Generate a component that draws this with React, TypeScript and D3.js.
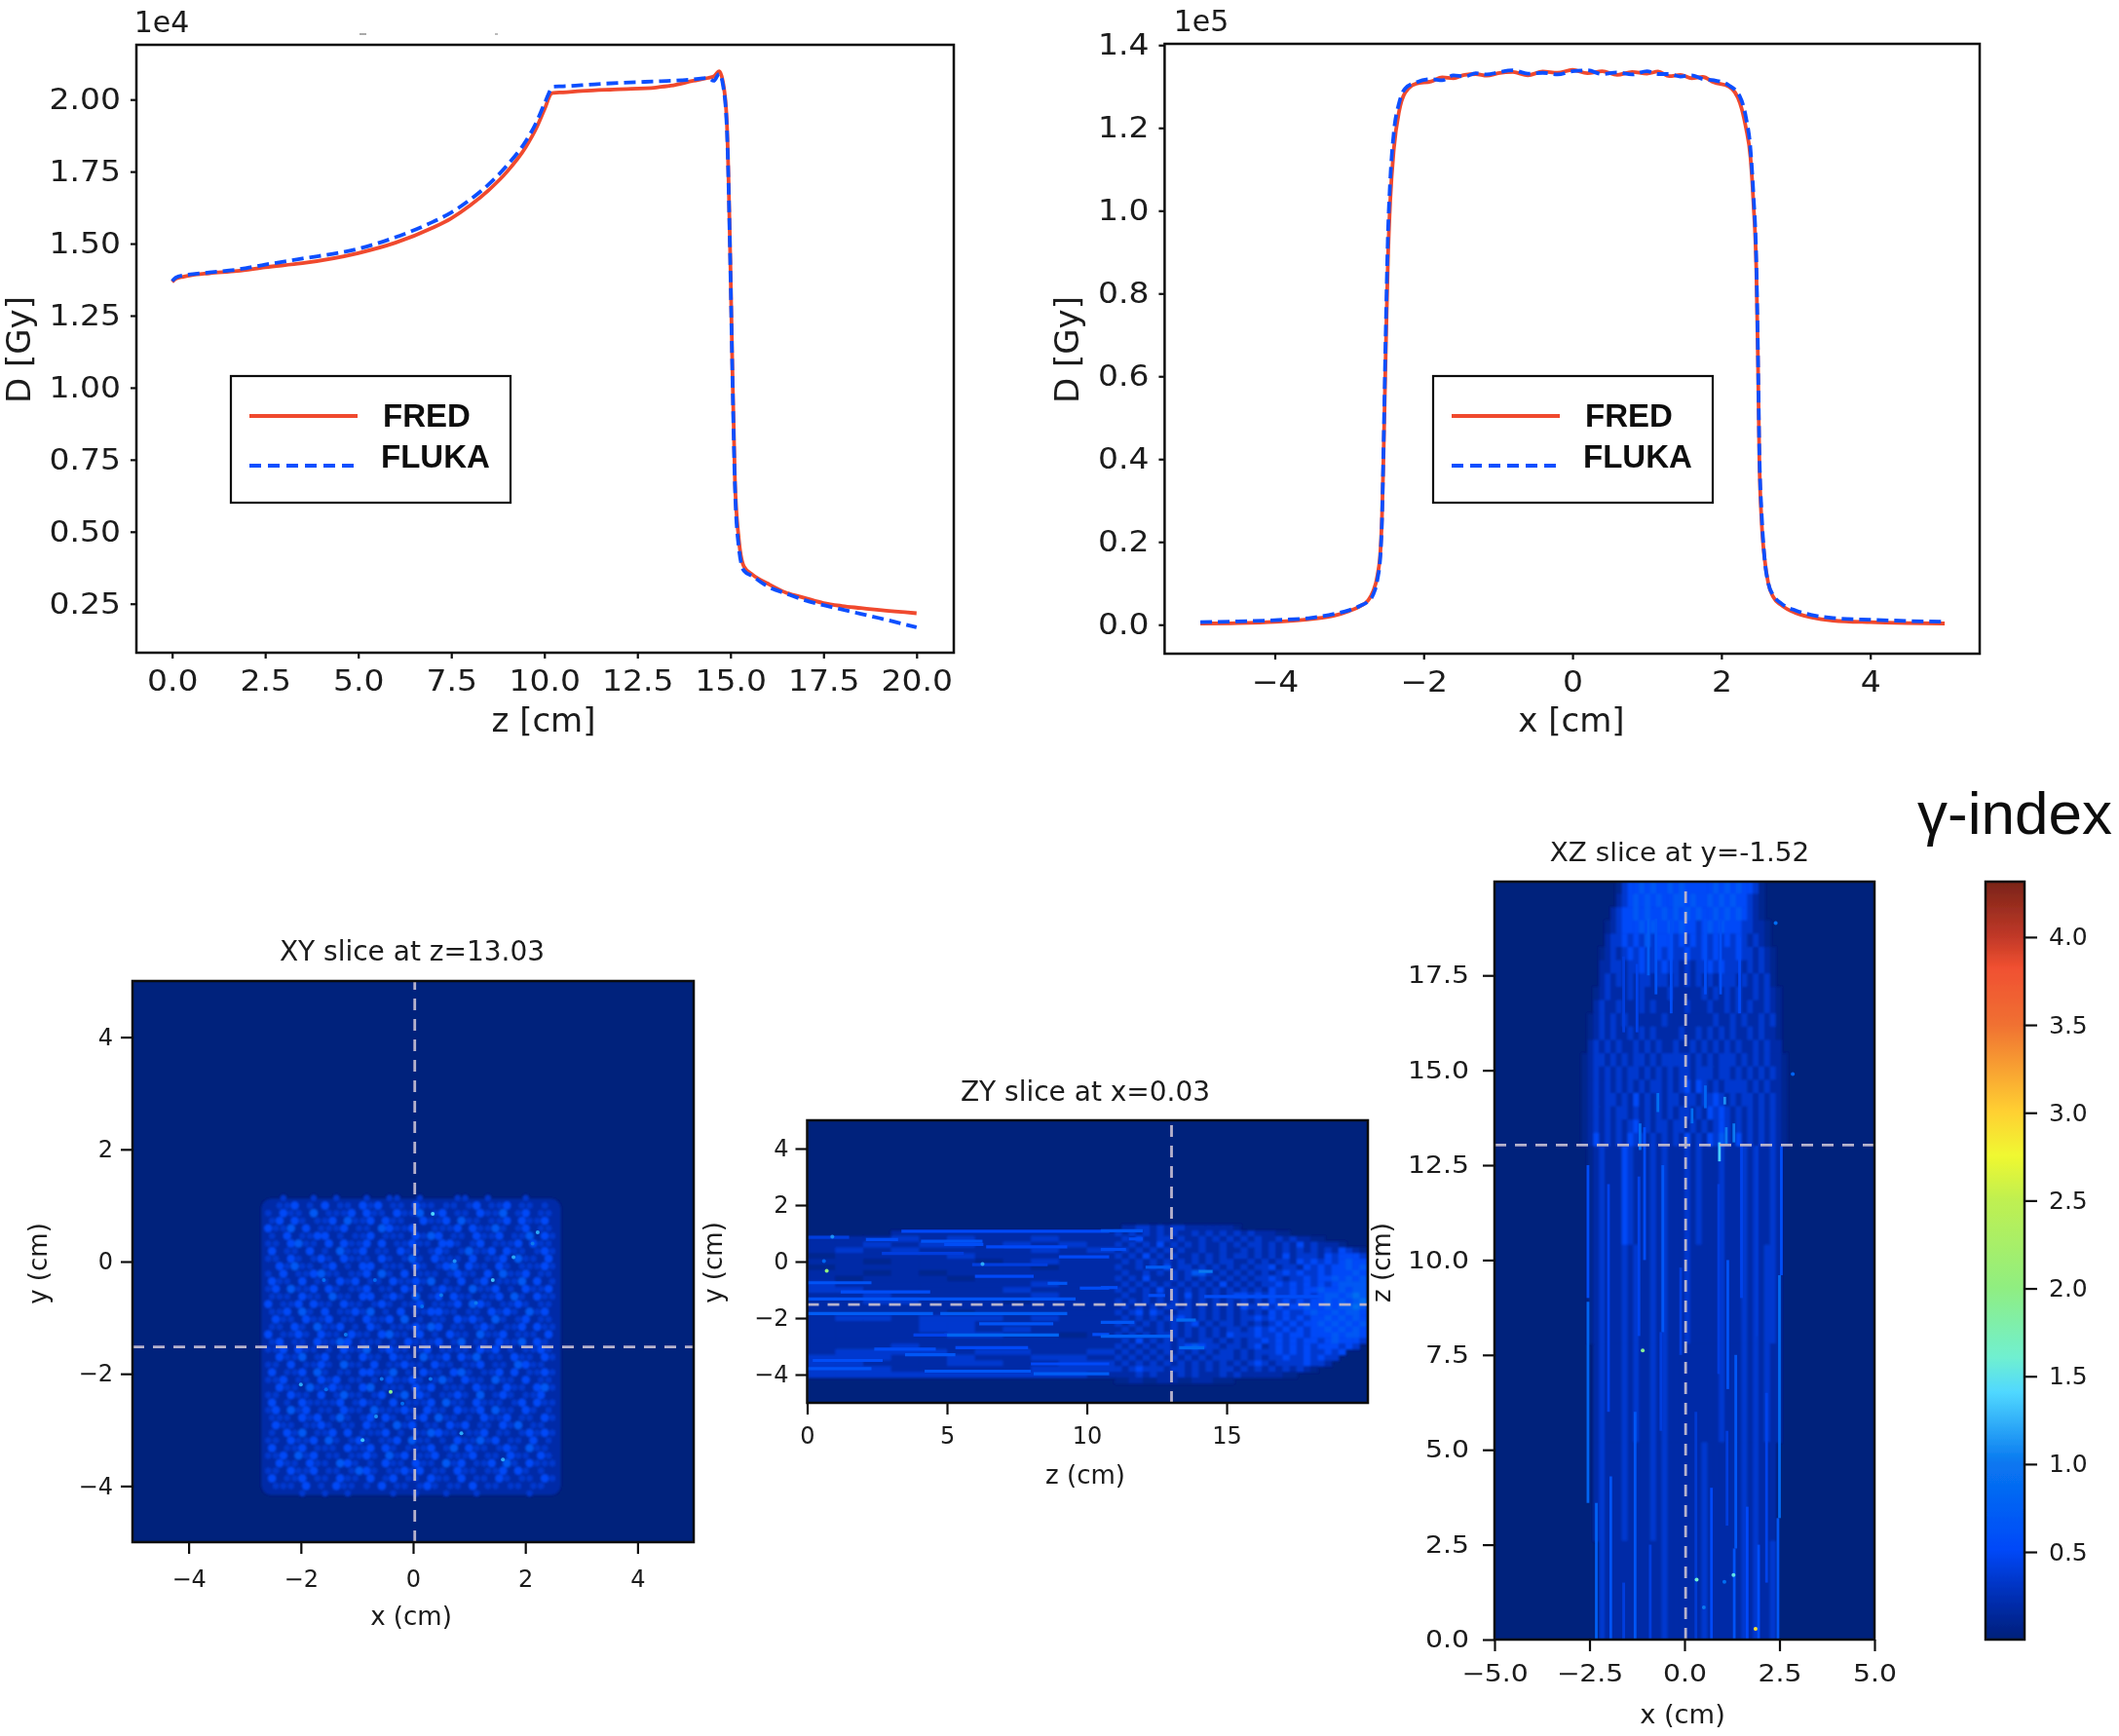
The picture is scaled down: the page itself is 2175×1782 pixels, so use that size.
import { useEffect, useRef } from 'react';
import * as d3 from 'd3';

// depth dose, D / 1e4 Gy against z in cm
const depthZ = [0, 0.1, 0.3, 0.5, 1, 1.75, 2.5, 3.5, 5, 6, 7, 7.5, 8, 8.5, 9, 9.5, 9.8, 10, 10.2, 10.25, 10.5, 11, 12, 13, 13.4, 14, 14.4, 14.55, 14.7, 14.8, 14.9, 15, 15.05, 15.12, 15.22, 15.36, 15.6, 16, 16.5, 17, 17.5, 18, 18.5, 19, 20];
const depthFred = [1.367, 1.378, 1.385, 1.39, 1.397, 1.405, 1.418, 1.432, 1.467, 1.503, 1.555, 1.588, 1.632, 1.685, 1.75, 1.835, 1.905, 1.965, 2.022, 2.023, 2.025, 2.03, 2.036, 2.042, 2.048, 2.065, 2.075, 2.08, 2.098, 2.06, 1.93, 1.42, 1.08, 0.68, 0.48, 0.38, 0.35, 0.32, 0.288, 0.27, 0.252, 0.242, 0.235, 0.228, 0.217];
const depthFluka = [1.37, 1.382, 1.39, 1.393, 1.4, 1.41, 1.427, 1.448, 1.482, 1.522, 1.575, 1.608, 1.652, 1.705, 1.772, 1.855, 1.925, 1.985, 2.04, 2.045, 2.046, 2.05, 2.058, 2.063, 2.065, 2.07, 2.075, 2.065, 2.09, 2.05, 1.91, 1.4, 1.06, 0.66, 0.45, 0.365, 0.345, 0.31, 0.285, 0.262, 0.245, 0.23, 0.215, 0.2, 0.168];
const depthXTicks = [0, 2.5, 5, 7.5, 10, 12.5, 15, 17.5, 20];
const depthYTicks = [0.25, 0.5, 0.75, 1, 1.25, 1.5, 1.75, 2];

// lateral dose, D / 1e5 Gy against x in cm
const lateralX = [-5, -4.5, -4, -3.5, -3.2, -3, -2.85, -2.75, -2.68, -2.62, -2.58, -2.56, -2.54, -2.51, -2.48, -2.45, -2.4, -2.33, -2.25, -2.1, -1.9, -1.75, -1.6, -1.45, -1.3, -1.15, -1, -0.8, -0.6, -0.4, -0.2, 0, 0.2, 0.4, 0.6, 0.8, 1, 1.15, 1.3, 1.45, 1.6, 1.75, 1.9, 2.1, 2.25, 2.33, 2.39, 2.43, 2.47, 2.49, 2.51, 2.54, 2.58, 2.63, 2.7, 2.8, 3, 3.2, 3.5, 4, 4.5, 5];
const lateralFred = [0.003, 0.004, 0.007, 0.014, 0.022, 0.033, 0.045, 0.058, 0.08, 0.12, 0.18, 0.26, 0.4, 0.65, 0.88, 1.02, 1.15, 1.24, 1.285, 1.307, 1.312, 1.322, 1.32, 1.328, 1.33, 1.326, 1.332, 1.335, 1.327, 1.336, 1.333, 1.34, 1.332, 1.337, 1.328, 1.335, 1.331, 1.336, 1.325, 1.328, 1.32, 1.323, 1.31, 1.3, 1.26, 1.2, 1.13, 1.02, 0.85, 0.65, 0.4, 0.25, 0.16, 0.1, 0.066, 0.048, 0.028, 0.018, 0.01, 0.006, 0.004, 0.003];
const lateralFluka = [0.006, 0.008, 0.011, 0.017, 0.026, 0.035, 0.046, 0.056, 0.072, 0.11, 0.17, 0.25, 0.42, 0.7, 0.94, 1.07, 1.19, 1.26, 1.295, 1.31, 1.318, 1.315, 1.327, 1.324, 1.332, 1.329, 1.334, 1.339, 1.331, 1.333, 1.329, 1.337, 1.339, 1.33, 1.334, 1.329, 1.337, 1.33, 1.33, 1.324, 1.327, 1.318, 1.315, 1.303, 1.275, 1.225, 1.15, 1.04, 0.87, 0.67, 0.42, 0.27, 0.16, 0.1, 0.07, 0.052, 0.034, 0.024, 0.016, 0.012, 0.009, 0.007];
const lateralXTicks = [-4, -2, 0, 2, 4];
const lateralYTicks = [0, 0.2, 0.4, 0.6, 0.8, 1, 1.2, 1.4];

const seriesNames = ['FRED', 'FLUKA'];

// colour bar stops: gamma, colour
const gammaStops = [0, 0.25, 0.5, 1, 1.4, 1.6, 2, 2.5, 2.75, 3, 3.5, 3.82, 4, 4.32];
const gammaColors = ['#00207c', '#0030b8', '#0048f8', '#0878f0', '#50d8ff', '#70f0d0', '#90ee80', '#c0f050', '#f0f830', '#ffd030', '#f07030', '#f05030', '#c03828', '#7a2418'];
const gammaTicks = [0.5, 1, 1.5, 2, 2.5, 3, 3.5, 4];
// gamma of a digit in the cell rows below
const levelGamma = [0, 0.08, 0.18, 0.34, 0.5, 0.68, 0.9];

const sliceX = 0.03;
const sliceY = -1.52;
const sliceZ = 13.03;

// XY slice: cells of 0.135 cm, first row at y=1.2, first column at x=-2.75
const xyCells = [
  '0123221322312231233123222133123221232210',
  '1233423242332434233243323323423342332321',
  '2324332523334243324335234233243352342332',
  '2342432334253342433224334253323342433421',
  '2433524233342332543342233342433532342332',
  '1324233442323342333243542332433423352431',
  '2332453324243342423343324432342333424332',
  '2423324232533423324332343235334243323432',
  '1332432343243332432353243332423342533242',
  '2243533234232442333243234524332432333431',
  '2324233453323342532423332343324253342332',
  '1433242332434233243343523242342333524231',
  '2342533424323342332433234332533423243342',
  '2333243325332442343252342433233425324331',
  '1423342433243323432334233342543233432332',
  '2334253242334352324233443323324343253421',
  '2243324334233243342523233243432532342332',
  '1332432533423243233343542332343233424331',
  '2423343243324332453324232433253342333242',
  '2342332433542333232433342352332433524321',
  '1334243323243352343323423333243423233432',
  '2243352342332433243325334243523324332431',
  '2332423343253324233433243323342332543322',
  '1423342532332443352324332453233424233431',
  '2334233243423323243343235324332533242332',
  '2243325334332452333243423332433243324531',
  '1332433242353323423524323343252343233422',
  '2423243333423433242333425332433323424331',
  '2342534233243325333432433243342533243232',
  '1333243423532342432334253323243342332431',
  '2243323343233243325342332434233243523322',
  '1324352334242333423233543323342332343431',
  '2332433425323432334253323243353423324232',
  '2423342333243342432333423524332343253321',
  '1334253423323343253423342333423324332432',
  '2243324332543232433243325342334253243331',
  '2332433423323543233434233243323342432322',
  '2423342332433242342332433242332432332431',
  '1233324232433232423323432332423323323321',
  '0122232132231222132232123122312222132110',
];
const xySpots: number[][] = [
  [0.35, 0.85, 1.4], [2.22, 0.52, 1.2], [1.79, 0.08, 1.2], [0.74, 0.01, 1.1], [1.42, -0.33, 1.3], [0.5, -0.6, 1],
  [1.12, -0.74, 1], [0.16, -0.8, 0.9], [-1.2, -1.3, 1], [-0.56, -2.09, 1], [0.31, -2.09, 1], [-2, -2.19, 1.2],
  [-0.4, -2.32, 1.9], [-0.19, -2.53, 0.9], [-0.66, -2.76, 1.1], [0.86, -3.06, 1.2], [-0.9, -3.18, 1.3], [1.6, -3.53, 1.2],
  [-1.59, -0.33, 0.9], [-0.68, -0.33, 0.85], [-1.55, -2.28, 0.9], [2.13, 0.32, 1],
];

// ZY slice: z 0-11 in cells of 1 x 0.2 cm from y=1.1
const zyProximal = [
  '00022222222', '22232322322', '22323323232', '23232222323', '12222322222', '22122212322', '12222222122',
  '22121222222', '21222122222', '32222222322', '33222223222', '22322222322', '22332221222', '22222222222',
  '22222122222', '23323332322', '22223322222', '22223323222', '22222332212', '22222222222', '22232222222',
  '23333233223', '33322322332', '33222332233', '33322222333', '33333333332',
];
// ZY slice: z 11-20 in cells of 0.25 x 0.2 cm from y=1.3
const zyDistal = [
  '022332323322222221000000000000000000',
  '323232323223232323232221100000000000',
  '232422332322323232323223232211000000',
  '323232423232322323233232324232221000',
  '232323232322322322323232323232324321',
  '323242323223232323323232423332434443',
  '232323232323232332232323324343434544',
  '322323242332323232323342332434344545',
  '232232323235532323232323434334344454',
  '323242223232323232323343233434454545',
  '232323232323232423232334343434345555',
  '323232423232323232323243343445445455',
  '232232323242323234434343343434554565',
  '323232323232323232323243434344545456',
  '232323233232323232433434344544545565',
  '323424322332323232323243433454454554',
  '232323233432323232334343434344545454',
  '323232323234232332323234343445454545',
  '232322323232323233234343434344545454',
  '323232333232323243334334344344454554',
  '232423232322332323233434343443454443',
  '323232332345433233234234343434443430',
  '232323232323232332323334343433434000',
  '323232323232323332323233433434330000',
  '232323232323232323234323333433200000',
  '323433323323232332323232323210000000',
  '222323222323222323222222110000000000',
  '112211222112221110000000000000000000',
];
// horizontal streaks: z from, z to, y, gamma
const zyStreaks: number[][] = [
  [3.37, 10.8, 1.07, 0.5], [2.1, 3.25, 0.78, 0.55], [4.07, 6.27, 0.72, 0.6], [4.9, 6.3, 0.61, 0.55], [0, 1.5, 0.86, 0.4],
  [6.4, 9.3, 0.52, 0.5], [2.67, 5.6, 0.29, 0.4], [9, 10.8, 0.17, 0.5], [5.9, 8.6, -0.11, 0.4], [0, 2.3, -0.75, 0.6],
  [6, 8.1, -0.52, 0.5], [8.6, 9.3, -0.77, 0.65], [1.2, 4.4, -1.07, 0.55], [9.75, 10.8, -0.94, 0.55], [0, 9.6, -1.32, 0.6],
  [0, 4.5, -1.84, 0.7], [4.76, 9.3, -1.84, 0.7], [6.15, 8.8, -2.2, 0.6], [4.9, 9, -2.6, 0.8], [3.8, 5, -2.6, 0.45],
  [10.2, 10.8, -2.58, 0.55], [2.4, 4.6, -3.1, 0.55], [3.5, 5.3, -3.3, 0.65], [5.3, 7.9, -3.05, 0.5], [0.2, 2.7, -3.5, 0.55],
  [4.2, 8, -3.88, 0.65], [0, 2.3, -3.79, 0.6], [8.1, 10.8, -3.97, 0.7], [8, 10.8, -3.62, 0.5], [10.5, 12, 1.09, 0.65],
  [11.5, 12, 0.8, 0.55], [10.5, 11.4, 0.43, 0.55], [12.1, 13, -0.2, 0.7], [14, 14.5, -0.35, 1], [10.5, 11.1, -0.92, 0.55],
  [12.2, 12.8, -1.2, 0.55], [13.2, 13.9, -2.07, 0.85], [10.5, 11.7, -2.15, 0.65], [10.5, 13, -2.64, 0.75], [13.3, 14.2, -3.05, 0.85],
  [14.2, 18.4, -1.24, 0.55],
];
const zySpots: number[][] = [[0.7, -0.33, 2], [0.9, 0.88, 1.1], [6.27, -0.09, 1.2], [0.6, 0.02, 0.8]];

// XZ slice: z 13-20 in cells of 0.15 x 0.35 cm from z=20, first column at x=-2.7
const xzDistal = [
  '000000134454544545444445454544310000',
  '000000234545454455454454545443210000',
  '000002344545445454545445454543210000',
  '000012344454544545443454544433221000',
  '000023343435344434343434343432321000',
  '000123234343343433433434333433232100',
  '000223323343334332323343433323232100',
  '000232323233233232323232333232323100',
  '001232223232222322222323232322323210',
  '002322322232322222322232232323223210',
  '012323232222223222222223223232232310',
  '012323223232322223223232323223232210',
  '023232322323232232232323232322323220',
  '123323232332323333323232333232323221',
  '123232323323232323323332332323232321',
  '123232323232332323424323233332323221',
  '123233232423232332332334323233232321',
  '123232332323232323323243432323232321',
  '123232323423233233232323432323232321',
  '124232324332323232423243532423232321',
];
// XZ slice: z 0-13 in cells of 0.15 x 2.6 cm from z=13
const xzProximal = [
  '012322243222323222323222322232322320',
  '012322232322323222322222322232323320',
  '002322232322323222222222322232323220',
  '002322232222323222222322222232322200',
  '000322222222223222222322222232322300',
];
// vertical streaks: x, z from, z to, gamma
const xzStreaks: number[][] = [
  [-2.54, 3.6, 8.9, 0.8], [-2.54, 9, 12.5, 0.55], [-2.32, 0, 3.6, 0.75], [-1.94, 0, 4.3, 0.6], [-1.3, 0, 6, 0.65], [-1.6, 0, 1.5, 0.4],
  [-0.57, 8.1, 12.5, 0.65], [-0.62, 5.5, 8.1, 0.4], [-1.2, 8, 12.2, 0.45], [-1.05, 10, 13.5, 0.55], [-1.17, 12.9, 13.6, 0.9],
  [1.14, 6.6, 10, 0.6], [1.12, 3, 5.5, 0.4], [0.71, 0, 4, 0.5], [1.35, 2.4, 7.5, 0.65], [1.31, 0, 2.4, 0.6], [1.95, 0, 2.5, 0.55],
  [1.65, 0, 3.5, 0.5], [2.16, 1.5, 6.5, 0.45], [2.5, 3.2, 9.6, 0.85], [2.46, 0, 3.2, 0.65], [2.55, 9.6, 13, 0.55], [-2, 6, 12, 0.45],
  [-0.9, 0, 2.5, 0.4], [0.3, 0, 6, 0.35], [0.9, 7, 12, 0.4], [-0.1, 7.5, 9.8, 0.4], [1.5, 9, 13, 0.45], [1.9, 8, 13, 0.35],
  [-0.95, 17.5, 19, 0.7], [-0.75, 17, 19, 0.6], [-0.35, 16.5, 19, 0.55], [0.55, 17, 19, 0.55], [0.95, 17, 19, 0.55], [1.45, 16.5, 18.5, 0.5],
  [-1.6, 16, 18, 0.4], [-1.25, 16, 17.8, 0.45], [0.92, 12.6, 13.1, 1.35], [1.1, 13.05, 13.5, 1], [1.3, 13.1, 13.6, 1], [0.2, 13.6, 14, 0.9],
  [0.55, 14, 14.6, 0.8], [-0.7, 13.9, 14.4, 0.9], [1.06, 14.1, 14.3, 1.1],
];
const xzSpots: number[][] = [[-1.1, 7.62, 1.9], [0.32, 1.58, 1.6], [1.29, 1.7, 1.5], [0.51, 0.85, 1], [1.87, 0.28, 2.9], [1.05, 1.52, 0.9], [2.4, 18.88, 0.9], [2.85, 14.9, 0.8]];

const gammaColor = d3.scaleLinear<string>().domain(gammaStops).range(gammaColors).clamp(true);
const SANS = '"DejaVu Sans", sans-serif';
const dashColor = '#b6b2cc';

type TextOpts = { size: number; sx?: number; anchor?: string; rot?: number; weight?: string; family?: string; fill?: string };

function putText(sel: any, x: number, y: number, str: string, o: TextOpts) {
  sel.append('text')
    .attr('transform', `translate(${x},${y}) rotate(${o.rot || 0}) scale(${o.sx || 1},1)`)
    .attr('dy', '0.36em')
    .attr('text-anchor', o.anchor || 'middle')
    .attr('font-family', o.family || SANS)
    .attr('font-weight', o.weight || 'normal')
    .attr('font-size', o.size)
    .attr('fill', o.fill || '#1a1a1a')
    .text(str);
}

function putAxes(g: any, x: any, y: any, o: { xTicks: number[]; yTicks: number[]; xFmt: any; yFmt: any; tick: number; size: number; sx?: number; padX: number; padY: number }) {
  const sx = o.sx || 1;
  const gx = g.append('g').attr('transform', `translate(0,${y.range()[0]})`)
    .call(d3.axisBottom(x).tickValues(o.xTicks).tickFormat(o.xFmt).tickSize(o.tick).tickSizeOuter(0).tickPadding(o.padX));
  const gy = g.append('g').attr('transform', `translate(${x.range()[0]},0)`)
    .call(d3.axisLeft(y).tickValues(o.yTicks).tickFormat(o.yFmt).tickSize(o.tick).tickSizeOuter(0).tickPadding(o.padY));
  [gx, gy].forEach((a) => {
    a.select('.domain').remove();
    a.selectAll('line').attr('stroke', '#111').attr('stroke-width', 2.2);
    a.selectAll('text').attr('font-family', SANS).attr('font-size', o.size).attr('fill', '#1a1a1a');
  });
  gx.selectAll('text').attr('transform', `scale(${sx},1)`);
  gy.selectAll('text').attr('transform', `scale(${sx},1)`).attr('x', -(o.tick + o.padY) / sx);
}

function putFrame(g: any, x: any, y: any, w = 2.5) {
  const [x0, x1] = x.range();
  const [y0, y1] = y.range();
  g.append('rect').attr('x', x0).attr('y', y1).attr('width', x1 - x0).attr('height', y0 - y1)
    .attr('fill', 'none').attr('stroke', '#111').attr('stroke-width', w);
}

function doseLine(g: any, x: any, y: any, xs: number[], ys: number[], color: string, dash?: string) {
  const line = d3.line<number>().x((_, i) => x(xs[i])).y((d) => y(d)).curve(d3.curveMonotoneX);
  g.append('path').attr('d', line(ys)).attr('fill', 'none').attr('stroke', color).attr('stroke-width', 3.8)
    .attr('stroke-dasharray', dash || null);
}

function putLegend(g: any, left: number, top: number) {
  g.append('rect').attr('x', left).attr('y', top).attr('width', 287).attr('height', 130)
    .attr('fill', '#fff').attr('stroke', '#111').attr('stroke-width', 2.2);
  g.append('line').attr('x1', left + 19).attr('x2', left + 130).attr('y1', top + 41).attr('y2', top + 41)
    .attr('stroke', '#f04a2e').attr('stroke-width', 4);
  g.append('line').attr('x1', left + 19).attr('x2', left + 130).attr('y1', top + 92).attr('y2', top + 92)
    .attr('stroke', '#0f4fff').attr('stroke-width', 4).attr('stroke-dasharray', '12,7');
  const liberation = '"Liberation Sans", sans-serif';
  putText(g, left + 156, top + 40, seriesNames[0], { size: 33, anchor: 'start', weight: 'bold', family: liberation, fill: '#111' });
  putText(g, left + 154, top + 82, seriesNames[1], { size: 33, anchor: 'start', weight: 'bold', family: liberation, fill: '#111' });
}

function cells(g: any, x: any, y: any, rows: string[], x0: number, y0: number, dx: number, dy: number) {
  rows.forEach((row, i) => {
    row.split('').forEach((c, j) => {
      if (c === '0') return;
      g.append('rect')
        .attr('x', x(x0 + j * dx))
        .attr('y', y(y0 - i * dy))
        .attr('width', x(x0 + dx) - x(x0) + 0.5)
        .attr('height', y(y0 - dy) - y(y0) + 0.5)
        .attr('fill', gammaColor(levelGamma[+c]));
    });
  });
}

// same digits as cells, drawn as round blobs with every other row moved half a cell
function blobs(g: any, x: any, y: any, rows: string[], x0: number, y0: number, d: number) {
  rows.forEach((row, i) => {
    row.split('').forEach((c, j) => {
      if (+c < 3) return;
      g.append('circle')
        .attr('cx', x(x0 + (j + (i % 2 ? 0.75 : 0.25)) * d))
        .attr('cy', y(y0 - (i + 0.5) * d))
        .attr('r', +c === 3 ? 3.2 : 4.2)
        .attr('fill', gammaColor(levelGamma[+c]));
    });
  });
}

function spots(g: any, x: any, y: any, list: number[][], r: number) {
  g.selectAll(null).data(list).join('circle')
    .attr('cx', (d: number[]) => x(d[0]))
    .attr('cy', (d: number[]) => y(d[1]))
    .attr('r', r)
    .attr('fill', (d: number[]) => gammaColor(d[2]));
}

function sliceBase(svg: any, id: string, x: any, y: any) {
  const [x0, x1] = x.range();
  const [y0, y1] = y.range();
  svg.append('clipPath').attr('id', id).append('rect').attr('x', x0).attr('y', y1).attr('width', x1 - x0).attr('height', y0 - y1);
  const g = svg.append('g').attr('clip-path', `url(#${id})`);
  g.append('rect').attr('x', x0).attr('y', y1).attr('width', x1 - x0).attr('height', y0 - y1).attr('fill', gammaColor(0));
  return g;
}

function crossHair(g: any, x: any, y: any, vx: number, vy: number) {
  const [x0, x1] = x.range();
  const [y0, y1] = y.range();
  g.append('line').attr('x1', x(vx)).attr('x2', x(vx)).attr('y1', y0).attr('y2', y1)
    .attr('stroke', dashColor).attr('stroke-width', 2.8).attr('stroke-dasharray', '12,9');
  g.append('line').attr('x1', x0).attr('x2', x1).attr('y1', y(vy)).attr('y2', y(vy))
    .attr('stroke', dashColor).attr('stroke-width', 2.8).attr('stroke-dasharray', '12,9');
}

export default function App() {
  const ref = useRef<SVGSVGElement>(null);

  useEffect(() => {
    const svg = d3.select(ref.current);
    svg.selectAll('*').remove();

    const defs = svg.append('defs');
    defs.append('filter').attr('id', 'soft').append('feGaussianBlur').attr('stdDeviation', 1);
    defs.append('filter').attr('id', 'softer').append('feGaussianBlur').attr('stdDeviation', 0.8);
    defs.append('filter').attr('id', 'ink').append('feGaussianBlur').attr('stdDeviation', 0.6);
    const grad = defs.append('linearGradient').attr('id', 'gammaBar').attr('x1', 0).attr('x2', 0).attr('y1', 1).attr('y2', 0);
    const bar = d3.scaleLinear().domain([-0.01, 4.31]).range([1685, 906]);
    gammaStops.forEach((s, i) => {
      grad.append('stop').attr('offset', (s + 0.01) / 4.32).attr('stop-color', gammaColors[i]);
    });

    svg.append('rect').attr('width', 2175).attr('height', 1782).attr('fill', '#fff');
    const root = svg.append('g').attr('filter', 'url(#ink)');

    // depth dose
    const x1 = d3.scaleLinear().domain([-0.96, 21]).range([140, 979]);
    const y1 = d3.scaleLinear().domain([0.08, 2.19]).range([670, 46]);
    putAxes(root, x1, y1, {
      xTicks: depthXTicks, yTicks: depthYTicks, xFmt: d3.format('.1f'), yFmt: d3.format('.2f'),
      tick: 6, size: 30, sx: 1.1, padX: 12, padY: 10,
    });
    doseLine(root, x1, y1, depthZ, depthFred, '#f04a2e');
    doseLine(root, x1, y1, depthZ, depthFluka, '#0f4fff', '12,6');
    putFrame(root, x1, y1);
    putLegend(root, 237, 386);
    putText(root, 166, 22, '1e4', { size: 30 });
    putText(root, 558, 739, 'z [cm]', { size: 34 });
    putText(root, 19, 359, 'D [Gy]', { size: 34, rot: -90 });
    root.append('rect').attr('x', 369).attr('y', 34).attr('width', 7).attr('height', 2).attr('fill', '#aaa');
    root.append('rect').attr('x', 508).attr('y', 34).attr('width', 3).attr('height', 2).attr('fill', '#bbb');

    // lateral dose
    const x2 = d3.scaleLinear().domain([-5.48, 5.47]).range([1195.4, 2032]);
    const y2 = d3.scaleLinear().domain([-0.07, 1.403]).range([671, 45]);
    putAxes(root, x2, y2, {
      xTicks: lateralXTicks, yTicks: lateralYTicks, xFmt: d3.format('.0f'), yFmt: d3.format('.1f'),
      tick: 6, size: 30, sx: 1.1, padX: 12, padY: 10,
    });
    doseLine(root, x2, y2, lateralX, lateralFred, '#f04a2e');
    doseLine(root, x2, y2, lateralX, lateralFluka, '#0f4fff', '12,6');
    putFrame(root, x2, y2);
    putLegend(root, 1471, 386);
    putText(root, 1233, 21, '1e5', { size: 30 });
    putText(root, 1613, 739, 'x [cm]', { size: 34 });
    putText(root, 1095, 359, 'D [Gy]', { size: 34, rot: -90 });

    // XY slice
    const x3 = d3.scaleLinear().domain([-5, 5]).range([136, 712]);
    const y3 = d3.scaleLinear().domain([-5, 5]).range([1583, 1007]);
    const g3 = sliceBase(root, 'clipXY', x3, y3);
    const g3Cells = g3.append('g').attr('filter', 'url(#soft)');
    g3Cells.append('rect').attr('x', x3(-2.7)).attr('y', y3(1.12)).attr('width', x3(2.63) - x3(-2.7)).attr('height', y3(-4.16) - y3(1.12))
      .attr('rx', 10).attr('fill', gammaColor(levelGamma[2]));
    blobs(g3Cells, x3, y3, xyCells, -2.75, 1.2, 0.135);
    spots(g3.append('g').attr('filter', 'url(#ink)'), x3, y3, xySpots, 2);
    crossHair(g3, x3, y3, sliceX, sliceY);
    putFrame(root, x3, y3);
    putAxes(root, x3, y3, {
      xTicks: [-4, -2, 0, 2, 4], yTicks: [-4, -2, 0, 2, 4], xFmt: d3.format('.0f'), yFmt: d3.format('.0f'),
      tick: 12, size: 24, padX: 17, padY: 8,
    });
    putText(root, 423, 976, `XY slice at z=${sliceZ}`, { size: 28 });
    putText(root, 422, 1659, 'x (cm)', { size: 26 });
    putText(root, 39, 1297, 'y (cm)', { size: 26, rot: -90 });

    // ZY slice
    const x4 = d3.scaleLinear().domain([0, 20.05]).range([828.5, 1404]);
    const y4 = d3.scaleLinear().domain([-5, 5]).range([1440, 1150]);
    const g4 = sliceBase(root, 'clipZY', x4, y4);
    const g4Cells = g4.append('g').attr('filter', 'url(#softer)');
    cells(g4Cells, x4, y4, zyProximal, 0, 1.1, 1, 0.2);
    cells(g4Cells, x4, y4, zyDistal, 11, 1.3, 0.25, 0.2);
    const g4Marks = g4.append('g').attr('filter', 'url(#ink)');
    zyStreaks.forEach(([a, b, v, gm]) => {
      g4Marks.append('line').attr('x1', x4(a)).attr('x2', x4(b)).attr('y1', y4(v)).attr('y2', y4(v))
        .attr('stroke', gammaColor(gm)).attr('stroke-width', 3.2);
    });
    spots(g4Marks, x4, y4, zySpots, 2);
    crossHair(g4, x4, y4, sliceZ, sliceY);
    putFrame(root, x4, y4);
    putAxes(root, x4, y4, {
      xTicks: [0, 5, 10, 15], yTicks: [-4, -2, 0, 2, 4], xFmt: d3.format('.0f'), yFmt: d3.format('.0f'),
      tick: 12, size: 24, padX: 13, padY: 7,
    });
    putText(root, 1114, 1120, `ZY slice at x=${sliceX}`, { size: 28 });
    putText(root, 1114, 1514, 'z (cm)', { size: 26 });
    putText(root, 732, 1296, 'y (cm)', { size: 26, rot: -90 });

    // XZ slice
    const x5 = d3.scaleLinear().domain([-5, 5]).range([1534, 1924]);
    const y5 = d3.scaleLinear().domain([0, 19.97]).range([1683, 905]);
    const g5 = sliceBase(root, 'clipXZ', x5, y5);
    const g5Cells = g5.append('g').attr('filter', 'url(#softer)');
    cells(g5Cells, x5, y5, xzDistal, -2.7, 20, 0.15, 0.35);
    cells(g5Cells, x5, y5, xzProximal, -2.7, 13, 0.15, 2.6);
    const g5Marks = g5.append('g').attr('filter', 'url(#ink)');
    xzStreaks.forEach(([v, a, b, gm]) => {
      g5Marks.append('line').attr('x1', x5(v)).attr('x2', x5(v)).attr('y1', y5(a)).attr('y2', y5(b))
        .attr('stroke', gammaColor(gm)).attr('stroke-width', 2.8);
    });
    spots(g5Marks, x5, y5, xzSpots, 2);
    crossHair(g5, x5, y5, sliceX, sliceZ);
    putFrame(root, x5, y5);
    putAxes(root, x5, y5, {
      xTicks: [-5, -2.5, 0, 2.5, 5], yTicks: [0, 2.5, 5, 7.5, 10, 12.5, 15, 17.5], xFmt: d3.format('.1f'), yFmt: d3.format('.1f'),
      tick: 12, size: 24, sx: 1.18, padX: 14, padY: 14,
    });
    putText(root, 1724, 874, `XZ slice at y=${sliceY}`, { size: 27, sx: 1.03 });
    putText(root, 1727, 1760, 'x (cm)', { size: 26, sx: 1.05 });
    putText(root, 1418, 1296, 'z (cm)', { size: 26, rot: -90 });

    // colour bar
    root.append('rect').attr('x', 2038).attr('y', 905).attr('width', 40).attr('height', 778)
      .attr('fill', 'url(#gammaBar)').attr('stroke', '#111').attr('stroke-width', 2.5);
    const gBar = root.append('g').attr('transform', 'translate(2078,0)')
      .call(d3.axisRight(bar).tickValues(gammaTicks).tickFormat(d3.format('.1f') as any).tickSize(13).tickSizeOuter(0).tickPadding(12));
    gBar.select('.domain').remove();
    gBar.selectAll('line').attr('stroke', '#111').attr('stroke-width', 2.2);
    gBar.selectAll('text').attr('font-family', SANS).attr('font-size', 25).attr('fill', '#1a1a1a');
    putText(root, 2068, 834, 'γ-index', { size: 62, family: '"Liberation Sans", sans-serif', fill: '#111' });
  }, []);

  return <svg ref={ref} width={2175} height={1782} style={{ position: 'absolute', left: 0, top: 0, display: 'block' }} />;
}
